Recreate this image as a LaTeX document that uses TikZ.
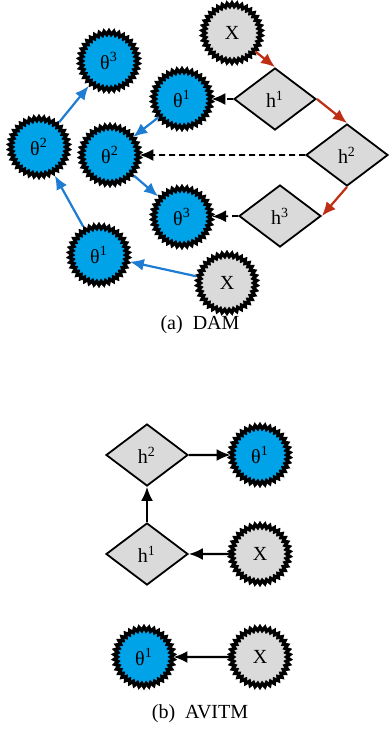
\documentclass[tikz,border=0pt]{standalone}
\usepackage{fontspec}
\setmainfont{Liberation Serif}
\usetikzlibrary{shapes.geometric,arrows.meta}
\definecolor{thetablue}{RGB}{0,162,232}
\definecolor{edgeblue}{RGB}{30,125,210}
\definecolor{edgered}{RGB}{190,45,20}
\definecolor{nodegray}{RGB}{218,218,218}
\begin{document}
\begin{tikzpicture}[x=0.5pt, y=-0.5pt, font=\fontsize{10}{12}\selectfont,
	>={Latex[length=7pt,width=6pt]},
	burst/.style={star, star points=38, star point ratio=1.13, minimum size=30pt,
		inner sep=0pt, draw=black, line width=1.7pt},
	theta/.style={burst, fill=thetablue},
	obs/.style={burst, fill=nodegray},
	hid/.style={diamond, draw=black, line width=0.9pt, fill=nodegray, inner sep=0pt,
		minimum width=41pt, minimum height=31pt},
	blueedge/.style={->, edgeblue, line width=1.1pt},
	rededge/.style={->, edgered, line width=1.1pt},
	dashedge/.style={->, black, line width=0.9pt, dash pattern=on 3pt off 2pt},
	plain/.style={->, black, line width=1.1pt}]
	\useasboundingbox (0,0) rectangle (389,736);
	% (a) DAM
	\node[obs] (xtop) at (232,33) {X};
	\node[hid] (ha1) at (275,99) {h\textsuperscript{1}};
	\node[hid] (ha2) at (347,155) {h\textsuperscript{2}};
	\node[hid] (ha3) at (280,216) {h\textsuperscript{3}};
	\node[theta] (ta1) at (182,99) {θ\textsuperscript{1}};
	\node[theta] (ta2) at (110,155) {θ\textsuperscript{2}};
	\node[theta] (ta3) at (182,217) {θ\textsuperscript{3}};
	\node[theta] (tl3) at (109,61) {θ\textsuperscript{3}};
	\node[theta] (tl2) at (39,147) {θ\textsuperscript{2}};
	\node[theta] (tl1) at (99,255) {θ\textsuperscript{1}};
	\node[obs] (xbot) at (227,283) {X};
	\draw[rededge] (xtop) -- (ha1.north);
	\draw[rededge] (ha1.east) -- (ha2.north);
	\draw[rededge] (ha2.south) -- (ha3.east);
	\draw[dashedge] (ha1.west) -- (ta1);
	\draw[dashedge] (ha2.west) -- (ta2);
	\draw[dashedge] (ha3.west) -- (ta3);
	\draw[blueedge] (ta1) -- (ta2);
	\draw[blueedge] (ta2) -- (ta3);
	\draw[blueedge] (xbot) -- (tl1);
	\draw[blueedge] (tl1) -- (tl2);
	\draw[blueedge] (tl2) -- (tl3);
	\node (capa) at (200,325) {(a)\ \ DAM};
	% (b) AVITM
	\node[hid] (hb2) at (147,455) {h\textsuperscript{2}};
	\node[hid] (hb1) at (147,554) {h\textsuperscript{1}};
	\node[theta] (tb1) at (260,455) {θ\textsuperscript{1}};
	\node[obs] (xb1) at (260,554) {X};
	\node[theta] (tb0) at (144,657) {θ\textsuperscript{1}};
	\node[obs] (xb0) at (260,657) {X};
	\draw[plain] (hb1) -- (hb2);
	\draw[plain] (hb2) -- (tb1);
	\draw[plain] (xb1) -- (hb1);
	\draw[plain] (xb0) -- (tb0);
	\node (capb) at (200,714) {(b)\ \ AVITM};
\end{tikzpicture}
\end{document}
